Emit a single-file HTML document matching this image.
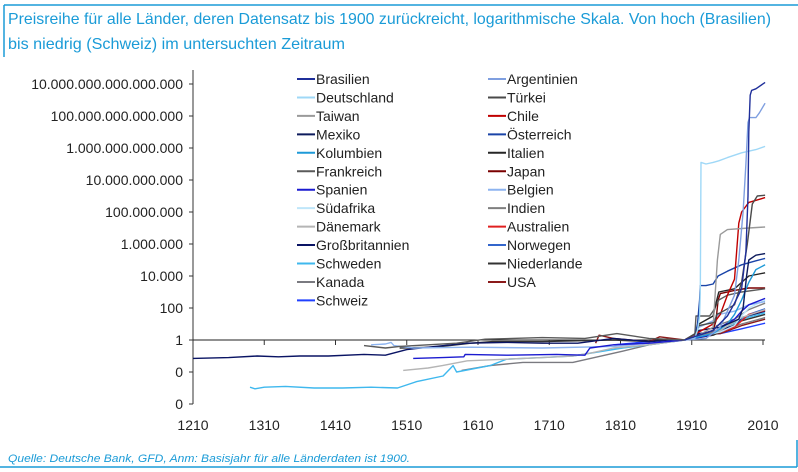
<!DOCTYPE html>
<html><head><meta charset="utf-8"><style>
html,body{margin:0;padding:0;background:#fff;}
svg{display:block;font-family:"Liberation Sans",sans-serif;}
</style></head><body>
<svg id="chart" width="798" height="472" viewBox="0 0 798 472" xmlns="http://www.w3.org/2000/svg">
<line x1="4" y1="5" x2="798" y2="5" stroke="#1a9bd7" stroke-width="1.5"/>
<line x1="4" y1="5" x2="4" y2="57" stroke="#1a9bd7" stroke-width="1.5"/>
<line x1="0" y1="467" x2="797" y2="467" stroke="#1a9bd7" stroke-width="1.5"/>
<line x1="797" y1="440" x2="797" y2="467" stroke="#1a9bd7" stroke-width="1.5"/>
<text fill="#1a9bd7" font-size="16">
<tspan x="8" y="24" textLength="763" lengthAdjust="spacingAndGlyphs">Preisreihe für alle Länder, deren Datensatz bis 1900 zurückreicht, logarithmische Skala. Von hoch (Brasilien)</tspan>
<tspan x="8" y="49" textLength="337" lengthAdjust="spacingAndGlyphs">bis niedrig (Schweiz) im untersuchten Zeitraum</tspan>
</text>
<text x="8" y="462" fill="#1a9bd7" font-size="11" font-style="italic" textLength="402" lengthAdjust="spacingAndGlyphs">Quelle: Deutsche Bank, GFD, Anm: Basisjahr für alle Länderdaten ist 1900.</text>
<g id="axes"></g>
<g id="series"></g>
<g id="legend"></g>
</svg>
<script>
// y-axis ticks (log10 of index) and labels
const yTickLogs = [16,14,12,10,8,6,4,2,0,-2,-4];
const yTickLabels = ["10.000.000.000.000.000","100.000.000.000.000","1.000.000.000.000","10.000.000.000","100.000.000","1.000.000","10.000","100","1","0","0"];
const xTickYears = [1210,1310,1410,1510,1610,1710,1810,1910,2010];
const countryNames = ["Brasilien","Argentinien","Deutschland","Türkei","Taiwan","Chile","Mexiko","Österreich","Kolumbien","Italien","Frankreich","Japan","Spanien","Belgien","Südafrika","Indien","Dänemark","Australien","Großbritannien","Norwegen","Schweden","Niederlande","Kanada","USA","Schweiz"];
const countryColors = ["#1f2f9a","#7f9fe0","#9fd8f7","#4a4a4a","#9a9a9a","#c00000","#0d1b5c","#1a44a8","#1e9ad8","#262626","#5a5a5a","#7a0000","#1b1bd0","#8db4f0","#bfe6fa","#7f7f7f","#b5b5b5","#e02020","#0a1464","#3366cc","#3fb8ee","#333333","#7a7a80","#8b1a1a","#2040ff"];
// price index series: [year, log10(index, 1900 = 1)]
const brasilien = [[1900,0],[1920,0.3],[1940,0.6],[1960,1.5],[1970,2.3],[1980,3.2],[1986,5.5],[1989,9],[1990,13],[1992,15.3],[1994,15.6],[2000,15.7],[2013,16.1]];
const argentinien = [[1900,0],[1930,0.1],[1950,0.8],[1970,2.8],[1976,5],[1982,8],[1986,11],[1989,13.6],[1991,13.9],[2000,13.9],[2005,14.2],[2013,14.8]];
const deutschland = [[1900,0],[1914,0.1],[1918,0.6],[1921,1.5],[1922,3],[1923,11.1],[1930,11.0],[1940,11.1],[1948,11.2],[1960,11.4],[1980,11.7],[2000,11.9],[2013,12.1]];
const tuerkei = [[1900,0],[1915,0.4],[1920,0.9],[1942,1.1],[1945,1.6],[1950,1.7],[1970,2.2],[1980,3.6],[1988,6],[1995,8.5],[2002,9],[2013,9.05]];
const taiwan = [[1900,0],[1920,0.3],[1940,0.8],[1943,3],[1946,5],[1950,6.6],[1960,6.9],[1990,7.0],[2013,7.06]];
const chile = [[1900,0],[1920,0.5],[1940,1],[1950,1.6],[1960,2.8],[1970,3.8],[1973,5.5],[1976,7.3],[1980,8],[1990,8.6],[2013,8.9]];
const mexiko = [[1900,0],[1915,0.4],[1920,0.6],[1950,0.8],[1976,1.3],[1982,2],[1987,4],[1990,5],[2000,5.3],[2013,5.4]];
const oesterreich = [[1900,0],[1914,0.2],[1918,1],[1921,2.5],[1922,3.4],[1930,3.4],[1940,3.5],[1947,4],[1960,4.3],[1980,4.7],[2000,4.95],[2013,5.1]];
const kolumbien = [[1900,0],[1920,0.2],[1940,0.4],[1960,1],[1970,1.6],[1980,2.5],[1990,3.6],[2000,4.4],[2013,4.7]];
const italien = [[1900,0],[1915,0.2],[1920,1],[1940,1.5],[1944,2.3],[1948,3],[1970,3.2],[1980,3.6],[1990,4],[2013,4.2]];
const frankreich = [[1450,-0.35],[1480,-0.5],[1500,-0.4],[1540,-0.3],[1580,-0.2],[1620,0.05],[1700,0.15],[1760,0.1],[1805,0.4],[1850,0.1],[1900,0],[1914,0.1],[1916,1.5],[1935,1.5],[1940,1.8],[1948,2.5],[1960,2.8],[1980,3.0],[2013,3.2]];
const japan = [[1900,0],[1920,0.3],[1940,0.6],[1944,1.2],[1947,2.5],[1950,2.9],[1970,3.1],[1990,3.25],[2013,3.25]];
const spanien = [[1519,-1.15],[1560,-1.1],[1590,-1.05],[1592,-0.9],[1650,-0.95],[1720,-0.9],[1760,-0.95],[1767,-0.5],[1800,-0.3],[1850,-0.2],[1900,0],[1936,0.3],[1950,0.8],[1970,1.3],[1980,1.8],[1990,2.2],[2013,2.6]];
const belgien = [[1460,-0.3],[1480,-0.25],[1488,-0.15],[1492,-0.35],[1520,-0.5],[1600,-0.45],[1700,-0.5],[1800,-0.4],[1850,-0.2],[1900,0],[1914,0.3],[1920,0.8],[1940,1.2],[1948,1.6],[1970,1.8],[1990,2.2],[2013,2.4]];
const suedafrika = [[1900,0],[1920,0.2],[1950,0.5],[1970,0.9],[1980,1.5],[1990,2.0],[2013,2.5]];
const indien = [[1900,0],[1920,0.3],[1940,0.5],[1945,0.9],[1970,1.3],[1990,1.9],[2013,2.3]];
const daenemark = [[1505,-1.9],[1540,-1.75],[1560,-1.6],[1595,-1.3],[1650,-1.2],[1700,-1.1],[1743,-1.0],[1770,-0.8],[1800,-0.5],[1850,-0.3],[1900,0],[1920,0.3],[1950,0.6],[1980,1.4],[2013,1.9]];
const australien = [[1900,0],[1920,0.2],[1950,0.5],[1970,0.8],[1980,1.2],[1990,1.6],[2013,1.85]];
const grossbritannien = [[1210,-1.15],[1260,-1.1],[1300,-1.0],[1330,-1.05],[1360,-1.0],[1400,-1.0],[1450,-0.9],[1480,-0.95],[1510,-0.6],[1550,-0.4],[1595,-0.2],[1650,-0.15],[1700,-0.2],[1750,-0.2],[1800,0.1],[1850,-0.1],[1900,0],[1920,0.4],[1940,0.5],[1970,0.9],[1980,1.4],[2013,1.8]];
const norwegen = [[1900,0],[1920,0.3],[1950,0.5],[1970,0.9],[1990,1.6],[2013,1.95]];
const schweden = [[1290,-2.95],[1297,-3.05],[1310,-2.95],[1340,-2.9],[1380,-3.0],[1420,-3.0],[1460,-2.95],[1497,-3.0],[1524,-2.6],[1561,-2.25],[1575,-1.6],[1580,-2.0],[1627,-1.6],[1650,-1.2],[1700,-1.1],[1743,-1.0],[1813,-0.5],[1850,-0.3],[1900,0],[1920,0.4],[1950,0.6],[1980,1.3],[2013,1.7]];
const niederlande = [[1500,-0.5],[1550,-0.45],[1600,-0.2],[1630,-0.1],[1700,-0.1],[1800,0],[1850,-0.1],[1900,0],[1940,0.3],[1960,0.7],[1980,1.2],[2013,1.6]];
const kanada = [[1587,-1.9],[1627,-1.6],[1673,-1.4],[1743,-1.4],[1813,-0.7],[1850,-0.3],[1900,0],[1920,0.3],[1950,0.5],[1980,1.0],[2013,1.4]];
const usa = [[1775,-0.2],[1780,0.3],[1800,0.1],[1850,-0.1],[1865,0.2],[1900,0],[1920,0.3],[1950,0.4],[1980,0.9],[2013,1.3]];
const schweiz = [[1800,-0.3],[1850,-0.1],[1900,0],[1920,0.3],[1950,0.4],[1980,0.7],[2013,1.05]];
const seriesData = [brasilien,argentinien,deutschland,tuerkei,taiwan,chile,mexiko,oesterreich,kolumbien,italien,frankreich,japan,spanien,belgien,suedafrika,indien,daenemark,australien,grossbritannien,norwegen,schweden,niederlande,kanada,usa,schweiz];

const NS = "http://www.w3.org/2000/svg";
function xScale(year){ return 193 + (year - 1210) * 0.7125; }
function yScale(lg){ return 340 - 16 * lg; }
function mk(tag, attrs, parent){ const e = document.createElementNS(NS, tag); for (const k in attrs) e.setAttribute(k, attrs[k]); parent.appendChild(e); return e; }

const axes = document.getElementById('axes');
let yl = mk('line', {x1:193, y1:70, x2:193, y2:yScale(-4), stroke:'#333', 'stroke-width':1}, axes);


let zl = mk('line', {x1:189, y1:yScale(0), x2:765, y2:yScale(0), stroke:'#222', 'stroke-width':1}, axes);


yTickLogs.forEach((v,i)=>{
  const t = mk('line', {x1:189, y1:yScale(v), x2:193, y2:yScale(v), stroke:'#333'}, axes);
  
  
  const tx = mk('text', {x:183, y:yScale(v)+5, 'text-anchor':'end', 'font-size':14, fill:'#222'}, axes);
  
  
  tx.textContent = yTickLabels[i];
});
xTickYears.forEach(yr=>{
  if (yr > 1210) {
    const t = mk('line', {x1:xScale(yr), y1:yScale(0), x2:xScale(yr), y2:yScale(0)+5, stroke:'#333'}, axes);
    
    
  }
  const tx = mk('text', {x:xScale(yr), y:430, 'text-anchor':'middle', 'font-size':14, fill:'#222'}, axes);
  
  
  tx.textContent = yr;
});

const sg = document.getElementById('series');
for (let i = seriesData.length - 1; i >= 0; i--) {
  const pts = seriesData[i].map(p => xScale(p[0]).toFixed(1) + ',' + yScale(p[1]).toFixed(1)).join(' ');
  const pl = mk('polyline', {points:pts, fill:'none', stroke:countryColors[i], 'stroke-width':1.4, 'stroke-linejoin':'round'}, sg);
  
  
}

const lg = document.getElementById('legend');
countryNames.forEach((n,i)=>{
  const col = i % 2, row = Math.floor(i / 2);
  const lx = col === 0 ? 297 : 488;
  const ly = 79 + row * 18.45;
  const g = mk('g', {}, lg);
  
  
  mk('line', {x1:lx, y1:ly, x2:lx+18, y2:ly, stroke:countryColors[i], 'stroke-width':2}, g);
  const t = mk('text', {x:lx+19, y:ly+5, 'font-size':14, fill:'#222'}, g);
  t.textContent = n;
});
</script>
</body></html>
